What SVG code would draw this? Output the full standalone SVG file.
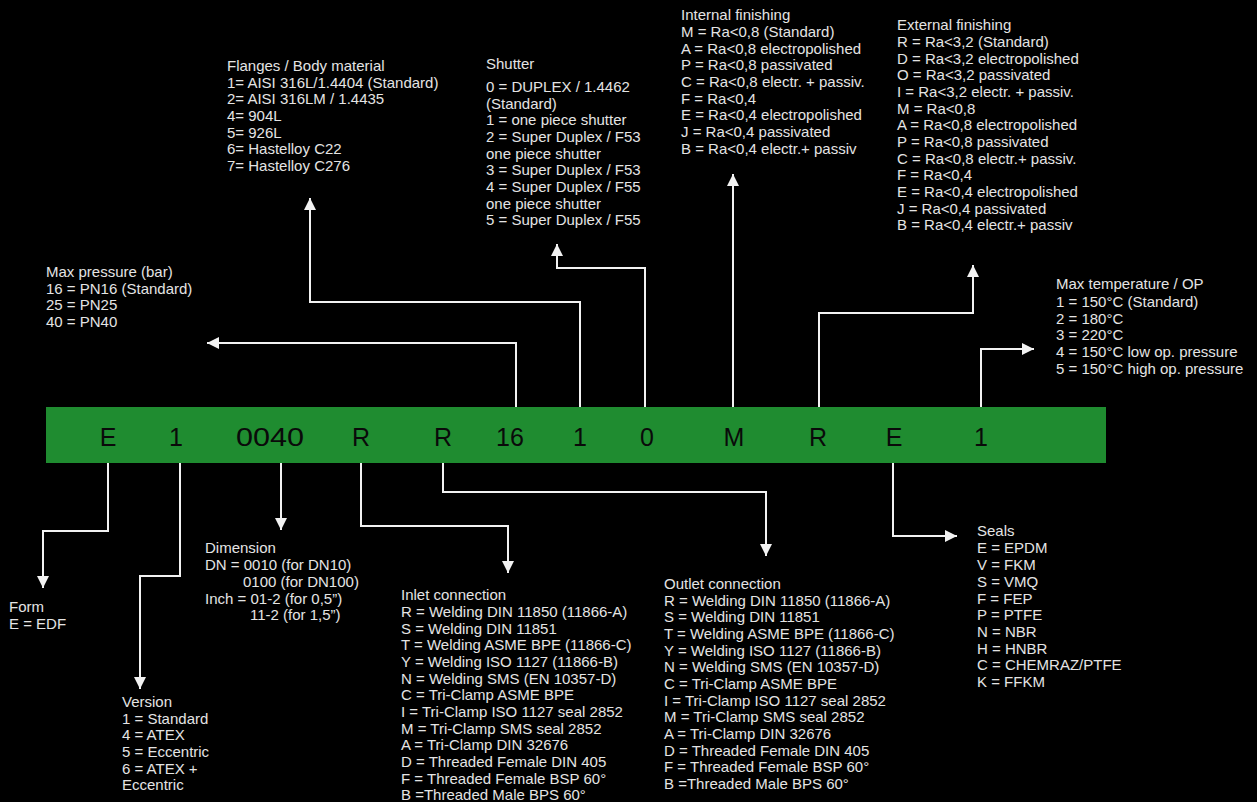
<svg xmlns="http://www.w3.org/2000/svg" width="1257" height="802" viewBox="0 0 1257 802">
<defs>
<style>
.t{font-family:"Liberation Sans",Arial,sans-serif;font-size:15px;fill:#e4e4e4;}
.code{font-family:"Liberation Sans",Arial,sans-serif;font-size:25px;fill:#0a0a0a;text-anchor:middle;}
.c{fill:none;stroke:#f2f2f2;stroke-width:2;marker-end:url(#ah);}
</style>
<marker id="ah" markerUnits="userSpaceOnUse" markerWidth="14" markerHeight="12" refX="12" refY="6" orient="auto">
<path d="M0,0 L12,6 L0,12 z" fill="#f2f2f2"/>
</marker>
</defs>
<rect x="0" y="0" width="1257" height="802" fill="#000"/>

<g id="connectors">
<path class="c" d="M516,407 V343 H207"/>
<path class="c" d="M580,407 V302 H310 V198"/>
<path class="c" d="M645,407 V268 H557 V244"/>
<path class="c" d="M733,407 V174"/>
<path class="c" d="M819,407 V313 H973 V265"/>
<path class="c" d="M981,407 V349 H1034"/>
<path class="c" d="M108,463 V531 H43 V588"/>
<path class="c" d="M180,463 V576 H140 V689"/>
<path class="c" d="M281,463 V530"/>
<path class="c" d="M361,463 V526 H508 V573"/>
<path class="c" d="M443,463 V492 H766 V556"/>
<path class="c" d="M893,463 V536 H957"/>
</g>

<g id="code-bar">
<rect x="46" y="407" width="1060" height="56" fill="#1f8c30"/>
<text class="code" x="108" y="446">E</text>
<text class="code" x="176" y="446">1</text>
<text class="code" x="270" y="446" textLength="68" lengthAdjust="spacingAndGlyphs">0040</text>
<text class="code" x="361" y="446">R</text>
<text class="code" x="443" y="446">R</text>
<text class="code" x="510" y="446">16</text>
<text class="code" x="580" y="446">1</text>
<text class="code" x="647" y="446">0</text>
<text class="code" x="734" y="446">M</text>
<text class="code" x="818" y="446">R</text>
<text class="code" x="894" y="446">E</text>
<text class="code" x="981" y="446">1</text>
</g>

<g id="max-pressure">
<text class="t" x="46" y="277">Max pressure (bar)</text>
<text class="t" x="46" y="293.5">16 = PN16 (Standard)</text>
<text class="t" x="46" y="310">25 = PN25</text>
<text class="t" x="46" y="327">40 = PN40</text>
</g>

<g id="flanges">
<text class="t" x="227" y="71">Flanges / Body material</text>
<text class="t" x="227" y="87.5">1= AISI 316L/1.4404 (Standard)</text>
<text class="t" x="227" y="104">2= AISI 316LM / 1.4435</text>
<text class="t" x="227" y="121">4= 904L</text>
<text class="t" x="227" y="137.5">5= 926L</text>
<text class="t" x="227" y="154">6= Hastelloy C22</text>
<text class="t" x="227" y="171">7= Hastelloy C276</text>
</g>

<g id="shutter">
<text class="t" x="486" y="69">Shutter</text>
<text class="t" x="486" y="92">0 = DUPLEX / 1.4462</text>
<text class="t" x="486" y="108.5">(Standard)</text>
<text class="t" x="486" y="125">1 = one piece shutter</text>
<text class="t" x="486" y="142">2 = Super Duplex / F53</text>
<text class="t" x="486" y="158.5">one piece shutter</text>
<text class="t" x="486" y="175">3 = Super Duplex / F53</text>
<text class="t" x="486" y="192">4 = Super Duplex / F55</text>
<text class="t" x="486" y="208.5">one piece shutter</text>
<text class="t" x="486" y="225">5 = Super Duplex / F55</text>
</g>

<g id="internal-finishing">
<text class="t" x="681" y="19.5">Internal finishing</text>
<text class="t" x="681" y="36.5">M = Ra&lt;0,8 (Standard)</text>
<text class="t" x="681" y="53.5">A = Ra&lt;0,8 electropolished</text>
<text class="t" x="681" y="70">P = Ra&lt;0,8 passivated</text>
<text class="t" x="681" y="87">C = Ra&lt;0,8 electr. + passiv.</text>
<text class="t" x="681" y="103.5">F = Ra&lt;0,4</text>
<text class="t" x="681" y="120">E = Ra&lt;0,4 electropolished</text>
<text class="t" x="681" y="137">J = Ra&lt;0,4 passivated</text>
<text class="t" x="681" y="153.5">B = Ra&lt;0,4 electr.+ passiv</text>
</g>

<g id="external-finishing">
<text class="t" x="897" y="29.5">External finishing</text>
<text class="t" x="897" y="46.5">R = Ra&lt;3,2 (Standard)</text>
<text class="t" x="897" y="63.5">D = Ra&lt;3,2 electropolished</text>
<text class="t" x="897" y="80">O = Ra&lt;3,2 passivated</text>
<text class="t" x="897" y="97">I = Ra&lt;3,2 electr. + passiv.</text>
<text class="t" x="897" y="113.5">M = Ra&lt;0,8</text>
<text class="t" x="897" y="130">A = Ra&lt;0,8 electropolished</text>
<text class="t" x="897" y="147">P = Ra&lt;0,8 passivated</text>
<text class="t" x="897" y="163.5">C = Ra&lt;0,8 electr.+ passiv.</text>
<text class="t" x="897" y="180">F = Ra&lt;0,4</text>
<text class="t" x="897" y="197">E = Ra&lt;0,4 electropolished</text>
<text class="t" x="897" y="213.5">J = Ra&lt;0,4 passivated</text>
<text class="t" x="897" y="230">B = Ra&lt;0,4 electr.+ passiv</text>
</g>

<g id="max-temperature">
<text class="t" x="1056" y="289">Max temperature / OP</text>
<text class="t" x="1056" y="306.5">1 = 150°C (Standard)</text>
<text class="t" x="1056" y="323.5">2 = 180°C</text>
<text class="t" x="1056" y="340">3 = 220°C</text>
<text class="t" x="1056" y="357">4 = 150°C low op. pressure</text>
<text class="t" x="1056" y="373.5">5 = 150°C high op. pressure</text>
</g>

<g id="form">
<text class="t" x="9" y="612">Form</text>
<text class="t" x="9" y="628.5">E = EDF</text>
</g>

<g id="version">
<text class="t" x="122" y="707">Version</text>
<text class="t" x="122" y="723.5">1 = Standard</text>
<text class="t" x="122" y="740">4 = ATEX</text>
<text class="t" x="122" y="757">5 = Eccentric</text>
<text class="t" x="122" y="773.5">6 = ATEX +</text>
<text class="t" x="122" y="790">Eccentric</text>
</g>

<g id="dimension">
<text class="t" x="205" y="553">Dimension</text>
<text class="t" x="205" y="570">DN = 0010 (for DN10)</text>
<text class="t" x="243" y="586.5">0100 (for DN100)</text>
<text class="t" x="205" y="603.5">Inch = 01-2 (for 0,5”)</text>
<text class="t" x="250" y="620">11-2 (for 1,5”)</text>
</g>

<g id="inlet-connection">
<text class="t" x="401" y="599.5">Inlet connection</text>
<text class="t" x="401" y="616.5">R = Welding DIN 11850 (11866-A)</text>
<text class="t" x="401" y="633.5">S = Welding DIN 11851</text>
<text class="t" x="401" y="650">T = Welding ASME BPE (11866-C)</text>
<text class="t" x="401" y="667">Y = Welding ISO 1127 (11866-B)</text>
<text class="t" x="401" y="683.5">N = Welding SMS (EN 10357-D)</text>
<text class="t" x="401" y="700">C = Tri-Clamp ASME BPE</text>
<text class="t" x="401" y="717">I = Tri-Clamp ISO 1127 seal 2852</text>
<text class="t" x="401" y="733.5">M = Tri-Clamp SMS seal 2852</text>
<text class="t" x="401" y="750">A = Tri-Clamp DIN 32676</text>
<text class="t" x="401" y="767">D = Threaded Female DIN 405</text>
<text class="t" x="401" y="783.5">F = Threaded Female BSP 60°</text>
<text class="t" x="401" y="800">B =Threaded Male BPS 60°</text>
</g>

<g id="outlet-connection">
<text class="t" x="664" y="588.5">Outlet connection</text>
<text class="t" x="664" y="605.5">R = Welding DIN 11850 (11866-A)</text>
<text class="t" x="664" y="622">S = Welding DIN 11851</text>
<text class="t" x="664" y="639">T = Welding ASME BPE (11866-C)</text>
<text class="t" x="664" y="655.5">Y = Welding ISO 1127 (11866-B)</text>
<text class="t" x="664" y="672">N = Welding SMS (EN 10357-D)</text>
<text class="t" x="664" y="689">C = Tri-Clamp ASME BPE</text>
<text class="t" x="664" y="705.5">I = Tri-Clamp ISO 1127 seal 2852</text>
<text class="t" x="664" y="722">M = Tri-Clamp SMS seal 2852</text>
<text class="t" x="664" y="739">A = Tri-Clamp DIN 32676</text>
<text class="t" x="664" y="755.5">D = Threaded Female DIN 405</text>
<text class="t" x="664" y="772">F = Threaded Female BSP 60°</text>
<text class="t" x="664" y="789">B =Threaded Male BPS 60°</text>
</g>

<g id="seals">
<text class="t" x="977" y="536">Seals</text>
<text class="t" x="977" y="553">E = EPDM</text>
<text class="t" x="977" y="570">V = FKM</text>
<text class="t" x="977" y="586.5">S = VMQ</text>
<text class="t" x="977" y="603.5">F = FEP</text>
<text class="t" x="977" y="620">P = PTFE</text>
<text class="t" x="977" y="637">N = NBR</text>
<text class="t" x="977" y="653.5">H = HNBR</text>
<text class="t" x="977" y="670">C = CHEMRAZ/PTFE</text>
<text class="t" x="977" y="687">K = FFKM</text>
</g>
</svg>
